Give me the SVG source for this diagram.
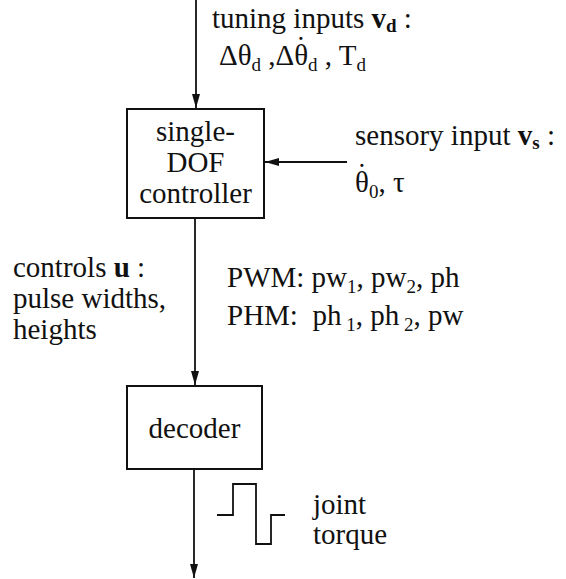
<svg xmlns="http://www.w3.org/2000/svg" width="566" height="579" viewBox="0 0 566 579">
<style>
text{font-family:"Liberation Serif","Times New Roman",serif;font-size:29px;fill:#111}
.c{text-anchor:middle}
.s{font-size:19px}
.b{font-weight:bold}
.box{fill:#fff;stroke:#111;stroke-width:2}
.ln{fill:none;stroke:#111;stroke-width:1.8}
</style>
<defs>
<marker id="ah" viewBox="0 0 14 8" refX="14" refY="4" markerWidth="14" markerHeight="8" markerUnits="userSpaceOnUse" orient="auto">
<path d="M0,0 L14,4 L0,8 Z" fill="#111"/>
</marker>
</defs>
<rect width="566" height="579" fill="#fff"/>
<g id="connectors">
<line class="ln" x1="196" y1="0" x2="196" y2="108" marker-end="url(#ah)"/>
<line class="ln" x1="347" y1="162" x2="265" y2="162" marker-end="url(#ah)"/>
<line class="ln" x1="195" y1="218" x2="195" y2="385" marker-end="url(#ah)"/>
<line class="ln" x1="194" y1="469" x2="194" y2="578" marker-end="url(#ah)"/>
</g>
<g id="controller">
<rect class="box" x="127" y="109" width="137" height="109"/>
<text class="c" x="195.5" y="141">single-</text>
<text class="c" x="195.5" y="172">DOF</text>
<text class="c" x="195.5" y="203">controller</text>
</g>
<g id="decoder">
<rect class="box" x="127" y="386" width="135" height="83"/>
<text class="c" x="194.5" y="438">decoder</text>
</g>
<g id="tuning-label">
<text x="212" y="28">tuning inputs <tspan class="b">v</tspan><tspan class="s b" dy="4">d</tspan><tspan dy="-4"> :</tspan></text>
<text x="219" y="65">Δθ<tspan class="s" dy="6">d</tspan><tspan dy="-6"> ,Δθ</tspan><tspan dx="-12" dy="-8">˙</tspan><tspan class="s" dx="2.3" dy="14">d</tspan><tspan dy="-6"> , T</tspan><tspan class="s" dy="6">d</tspan></text>
</g>
<g id="sensory-label">
<text x="355" y="145">sensory input <tspan class="b">v</tspan><tspan class="s b" dy="4">s</tspan><tspan dy="-4"> :</tspan></text>
<text x="355" y="192">θ<tspan dx="-12" dy="-8">˙</tspan><tspan class="s" dx="2.3" dy="14">0</tspan><tspan dy="-6">, τ</tspan></text>
</g>
<g id="controls-label">
<text x="13" y="277">controls <tspan class="b">u</tspan> :</text>
<text x="13" y="308">pulse widths,</text>
<text x="13" y="339">heights</text>
</g>
<g id="modes-label">
<text x="227" y="287">PWM: pw<tspan class="s" dy="6">1</tspan><tspan dy="-6">, pw</tspan><tspan class="s" dy="6">2</tspan><tspan dy="-6">, ph</tspan></text>
<text x="227" y="325">PHM:&#160; ph<tspan class="s" dy="6">&#160;1</tspan><tspan dy="-6">, ph</tspan><tspan class="s" dy="6">&#160;2</tspan><tspan dy="-6">, pw</tspan></text>
</g>
<g id="torque">
<path class="ln" d="M217,515 H233 V484 H256 V544 H271 V515 H285"/>
<text x="313" y="514">joint</text>
<text x="313" y="544">torque</text>
</g>
</svg>
